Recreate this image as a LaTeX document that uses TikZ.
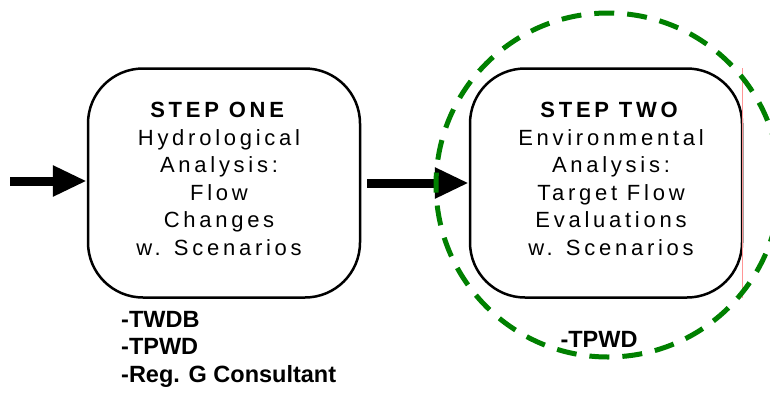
\documentclass[tikz,border=0pt]{standalone}
\usepackage{fontspec}
\setmainfont{Liberation Sans}
\newfontfamily\boxfont{Liberation Sans}[LetterSpace=17]
\usetikzlibrary{arrows.meta}
\definecolor{dgreen}{RGB}{0,128,0}
\definecolor{pinkline}{RGB}{255,150,150}
\begin{document}
\begin{tikzpicture}[x=1pt,y=-1pt,
  stepbox/.style={draw=black,line width=2.5pt,rounded corners=55pt,minimum width=272pt,minimum height=229pt,inner sep=0pt},
  boxtext/.style={align=center,inner sep=0pt,font=\boxfont\fontsize{22}{27.6}\selectfont},
  fatarrow/.style={line width=9pt,-{Triangle[length=34pt,width=29pt]}},
  who/.style={align=left,anchor=north west,font=\bfseries\fontsize{23.5}{27.5}\selectfont,inner sep=0pt}]
\useasboundingbox (0,0) rectangle (770,394);
\node[stepbox] (s1) at (224,183) {};
\node[boxtext] (t1) at (219,179) {\textbf{STEP ONE}\\Hydrological\\Analysis:\\Flow\\Changes\\w. Scenarios};
\node[stepbox] (s2) at (606,183) {};
\node[boxtext] (t2) at (611,179) {\textbf{STEP TWO}\\Environmental\\Analysis:\\Target Flow\\Evaluations\\w. Scenarios};
\coordinate (start) at (10,181);
\draw[fatarrow] (start) -- (s1.west |- start);
\coordinate (m) at (367,183);
\draw[fatarrow] (m) -- (s2.west |- m);
\draw[pinkline,line width=1pt] (742.5,68) -- (742.5,298);
\node[who] (w1) at (121,311) {-TWDB\\-TPWD\\-Reg. G Consultant};
\node[who,anchor=center] (w2) at (599,339) {-TPWD};
\node[draw=dgreen,line width=5pt,dash pattern=on 20pt off 13pt,circle,minimum size=344pt,inner sep=0pt] (c) at (608,185) {};
\end{tikzpicture}
\end{document}
